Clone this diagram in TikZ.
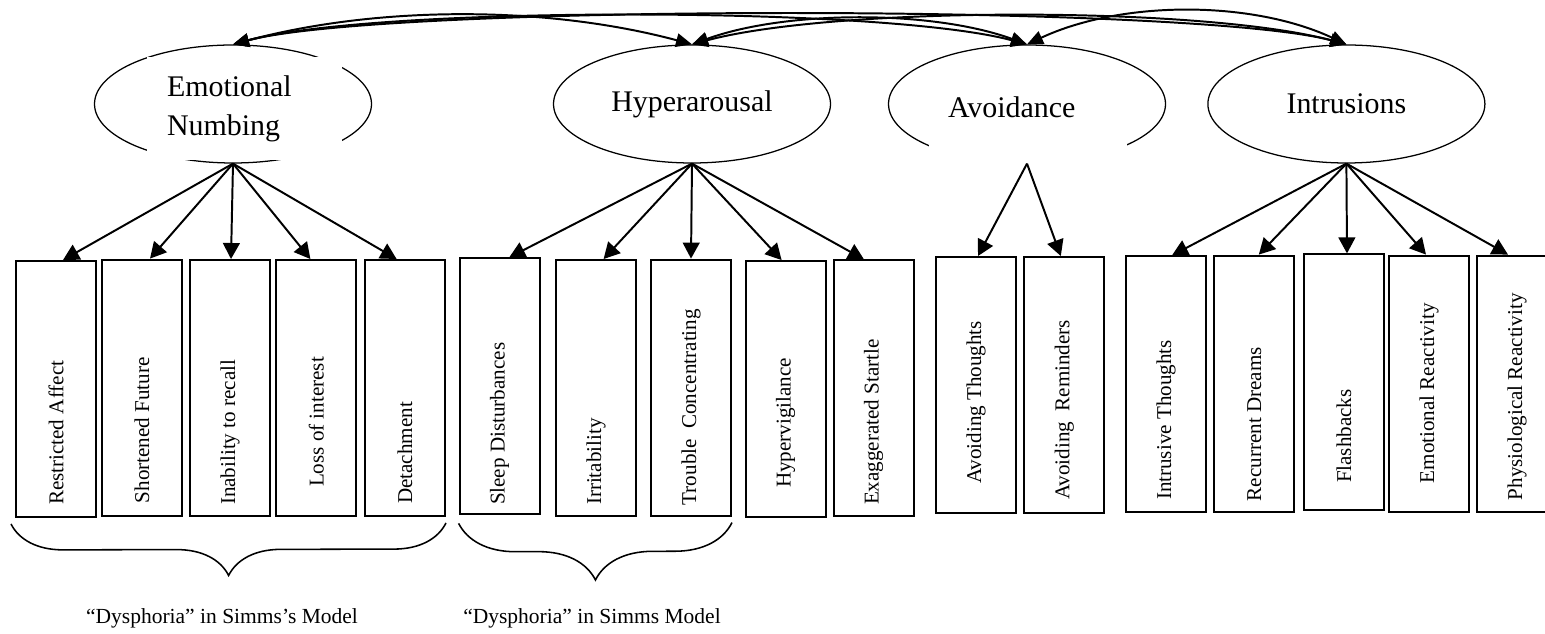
\documentclass[tikz,border=0pt]{standalone}
\usepackage{fontspec}
\usepackage{graphicx}
\setmainfont{Liberation Serif}
\usetikzlibrary{shapes.geometric, arrows.meta, decorations.pathreplacing}

\begin{document}
\begin{tikzpicture}[
    factor/.style={ellipse, draw, line width=0.9pt, minimum width=6.925cm, minimum height=2.95cm, inner sep=0pt, font=\fontsize{21.3}{27.7}\selectfont},
    textbox/.style={rectangle, fill=white, inner ysep=0pt, align=left, font=\fontsize{21.3}{27.7}\selectfont},
    symptom/.style={rectangle, draw, line width=1.4pt, minimum width=2cm, minimum height=6.4cm, inner sep=0pt, font=\fontsize{15}{18}\selectfont},
    arrow/.style={-{Triangle[length=0.4cm, width=0.42cm]}, line width=1.4pt},
    cov/.style={{Triangle[length=0.4cm, width=0.34cm]}-{Triangle[length=0.4cm, width=0.34cm]}, line width=1.4pt},
    curly/.style={decorate, decoration={brace, mirror, amplitude=#1}, line width=1.1pt},
    caption/.style={font=\fontsize{15.3}{18}\selectfont}
  ]
  \useasboundingbox (0,0) rectangle (38.625,15.85);

  % Latent factors
  \node[factor] (numbing) at (5.825,13.25) {};
  \node[factor] (hyper) at (17.3,13.25) {Hyperarousal};
  \node[factor] (avoid) at (25.675,13.25) {};
  \node[factor] (intru) at (33.66,13.25) {Intrusions};

  % Text boxes over the ellipses
  \node[textbox, text width=3.875cm, inner xsep=0.5cm, minimum height=2.575cm] (numbingtxt) at (6.1125,13.1375) {Emotional\\Numbing};
  \node[textbox, text width=4cm, inner xsep=0.475cm, text height=1.075cm, text depth=1.175cm] (avoidtxt) at (25.7,12.85) {Avoidance};

  % Covariances
  \draw[cov] (numbing.north) to[out=15, in=165, looseness=0.84] (hyper.north);
  \draw[cov] (numbing.north) to[out=15, in=165, looseness=0.48] (avoid.north);
  \draw[cov] (numbing.north) to[out=15, in=165, looseness=0.36] (intru.north);
  \draw[cov] (hyper.north) to[out=20, in=160, looseness=0.77] (avoid.north);
  \draw[cov] (hyper.north) to[out=15, in=165, looseness=0.58] (intru.north);
  \draw[cov] (avoid.north) to[out=25, in=155, looseness=0.84] (intru.north);

  % Emotional numbing items
  \foreach \i/\x/\y/\txt/\w/\s in {1/1.4/6.125/Restricted Affect/5.8/0.175, 2/3.55/6.16/Shortened Future/5.78/0.2, 3/5.75/6.15/Inability to recall/5.85/0.025, 4/7.91/6.15/Loss of interest/4.95/-0.15, 5/10.125/6.15/Detachment/5.8/-0.21} {
      \node[symptom] (n\i) at (\x,\y) {\rotatebox{90}{\makebox[\w cm][l]{\txt}}};
      \draw[arrow] (numbing.south) -- ([xshift=\s cm]n\i.north);
    }

  % Hyperarousal items
  \foreach \i/\x/\y/\txt/\w/\s in {1/12.49/6.19/Sleep Disturbances/5.93/0.24, 2/14.9/6.15/Irritability/5.85/0.19, 3/17.275/6.16/Trouble\ \ Concentrating/5.88/0, 4/19.64/6.125/Hypervigilance/4.95/-0.1, 5/21.84/6.14/Exaggerated Startle/5.83/-0.24} {
      \node[symptom] (h\i) at (\x,\y) {\rotatebox{90}{\makebox[\w cm][l]{\txt}}};
      \draw[arrow] (hyper.south) -- ([xshift=\s cm]h\i.north);
    }

  % Avoidance items
  \foreach \i/\x/\y/\txt/\w/\s in {1/24.4/6.225/Avoiding Thoughts/4.95/0.05, 2/26.61/6.225/Avoiding\ \ Reminders/5.75/-0.09} {
      \node[symptom] (a\i) at (\x,\y) {\rotatebox{90}{\makebox[\w cm][l]{\txt}}};
      \draw[arrow] (avoid.south) -- ([xshift=\s cm]a\i.north);
    }

  % Intrusion items
  \foreach \i/\x/\y/\txt/\w/\s in {1/29.15/6.24/Intrusive Thoughts/5.78/0.15, 2/31.36/6.26/Recurrent Dreams/5.88/0.11, 3/33.6/6.29/Flashbacks/5.03/0.075, 4/35.725/6.26/Emotional Reactivity/4.98/-0.075, 5/37.925/6.26/Physiological Reactivity/5.83/-0.225} {
      \node[symptom] (i\i) at (\x,\y) {\rotatebox{90}{\makebox[\w cm][l]{\txt}}};
      \draw[arrow] (intru.south) -- ([xshift=\s cm]i\i.north);
    }

  % Dysphoria braces
  \draw[curly=1.3cm] ([xshift=-0.1cm, yshift=-0.15cm]n1.south west) -- ([yshift=-0.15cm]n5.south east);
  \draw[curly=1.425cm] ([yshift=-0.2cm]h1.south west) -- ([yshift=-0.15cm]h3.south east);
  \node[caption] (dys1) at (5.55,0.4) {``Dysphoria'' in Simms's Model};
  \node[caption] (dys2) at (14.8,0.4) {``Dysphoria'' in Simms Model};

\end{tikzpicture}
\end{document}
